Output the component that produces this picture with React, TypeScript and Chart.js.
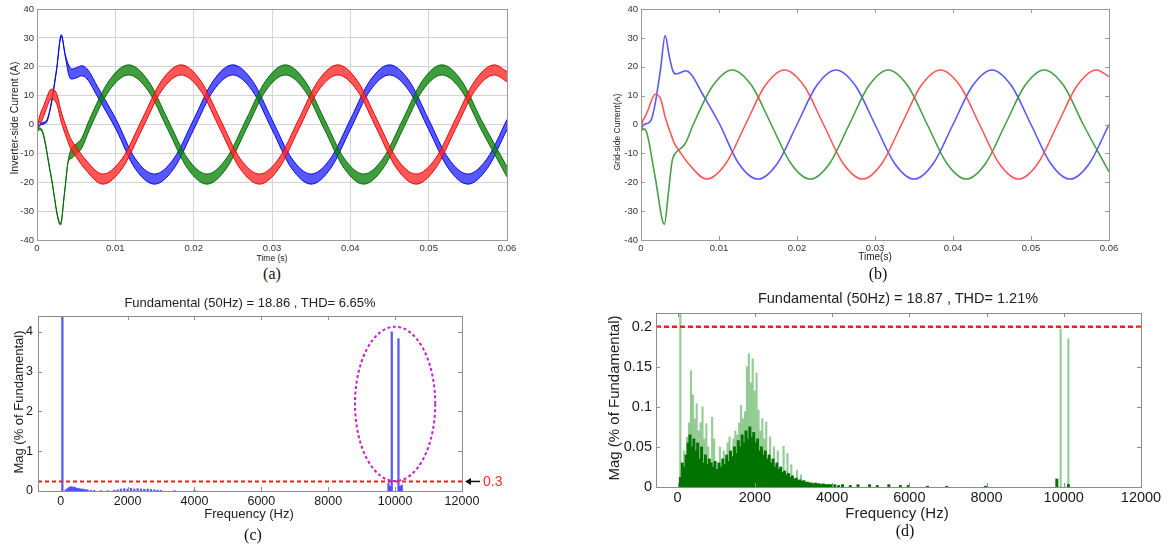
import React, { useEffect, useRef } from "react";
import { Chart, registerables } from "chart.js";

Chart.register(...registerables);

// ---------------- waveform data (time in s, current in A) ----------------
const TIME_TICKS = [0, 0.01, 0.02, 0.03, 0.04, 0.05, 0.06];
const CURRENT_TICKS = [-40, -30, -20, -10, 0, 10, 20, 30, 40];

const RED_T = [0, 0.0002, 0.0005, 0.0009, 0.0013, 0.0018, 0.0025, 0.0031, 0.0038, 0.0043, 0.005, 0.0061,
  0.0084, 0.0109, 0.0134, 0.0159, 0.0184, 0.0209, 0.0234, 0.0259, 0.0284, 0.0309, 0.0334, 0.0359, 0.0384,
  0.0409, 0.0434, 0.0459, 0.0484, 0.0509, 0.0534, 0.0559, 0.0584, 0.06];
const RED_I = [-3, 1, 2.5, 5, 8, 10.5, 9, 2.6, -3.1, -6.6, -9.5, -13.6,
  -18.9, -13.4, 0, 13.4, 18.9, 13.4, 0, -13.4, -18.9, -13.4, 0, 13.4, 18.9,
  13.4, 0, -13.4, -18.9, -13.4, 0, 13.4, 18.9, 16.6];

const BLUE_T = [0, 0.0004, 0.0009, 0.0013, 0.0018, 0.0025, 0.0031, 0.0036, 0.0041, 0.0045, 0.0051, 0.0057, 0.0064, 0.0078,
  0.0101, 0.0125, 0.015, 0.0175, 0.02, 0.0225, 0.025, 0.0275, 0.03, 0.0325, 0.035, 0.0375, 0.04,
  0.0425, 0.045, 0.0475, 0.05, 0.0525, 0.055, 0.0575, 0.06];
const BLUE_I = [-1.5, 0, 0.5, 1.5, 7, 19, 30.8, 24, 18.5, 17.5, 18, 18.6, 17.5, 11,
  0, -13.4, -18.9, -13.4, 0, 13.4, 18.9, 13.4, 0, -13.4, -18.9, -13.4, 0,
  13.4, 18.9, 13.4, 0, -13.4, -18.9, -13.4, 0];

const GREEN_T = [0, 0.0001, 0.0003, 0.0007, 0.0018, 0.003, 0.0035, 0.004, 0.0044, 0.005, 0.0057,
  0.0067, 0.0092, 0.0117, 0.0142, 0.0167, 0.0192, 0.0217, 0.0242, 0.0267, 0.0292, 0.0317, 0.0342,
  0.0367, 0.0392, 0.0417, 0.0442, 0.0467, 0.0492, 0.0517, 0.0542, 0.0567, 0.06];
const GREEN_I = [5, -2, -1.5, -2.5, -18, -34.5, -24, -12.5, -10, -8.5, -6.5,
  0, 13.4, 18.9, 13.4, 0, -13.4, -18.9, -13.4, 0, 13.4, 18.9, 13.4,
  0, -13.4, -18.9, -13.4, 0, 13.4, 18.9, 13.4, 0, -16.4];

// ripple half-band of the inverter-side current (A) and where it starts (s)
const RIPPLE_A = 1.75;
const RIPPLE_THIN = 0.3;
const RIPPLE_START = { red: 0.0005, blue: 0.0041, green: 0.0044 };

// ---------------- spectrum (c) ----------------
const FREQ_TICKS = [0, 2000, 4000, 6000, 8000, 10000, 12000];
const C_MAG_TICKS = [0, 1, 2, 3, 4];
const C_FREQ = [50, 150, 200, 250, 300, 350, 400, 450, 500, 550,
  600, 650, 700, 750, 800, 900, 1000, 1200, 1400, 1600,
  1700, 1800, 1900, 2000, 2100, 2200, 2300, 2400, 2500, 2600,
  2700, 2800, 2900, 3000, 3400, 4000, 9800, 9850, 9900, 10100, 10150, 10200];
const C_MAG = [100, 0.03, 0.06, 0.09, 0.11, 0.1, 0.1, 0.08, 0.07, 0.06,
  0.05, 0.05, 0.04, 0.03, 0.03, 0.02, 0.015, 0.01, 0.01, 0.02,
  0.03, 0.05, 0.06, 0.05, 0.07, 0.05, 0.06, 0.05, 0.045, 0.05,
  0.04, 0.03, 0.02, 0.015, 0.01, 0.02, 0.2, 0.12, 4.0, 3.83, 0.12, 0.15];
const C_LIMIT = 0.24;
const C_LIMIT_LABEL = "0.3";
const C_X_RANGE = [-680, 12000];
const C_Y_MAX = 4.4;
const C_ELLIPSE_CENTER = [10000, 2.19];
const C_ELLIPSE_RADIUS = [1200, 1.94];

// ---------------- spectrum (d) ----------------
const D_MAG_TICKS = [0, 0.05, 0.1, 0.15, 0.2];
const D_FREQ = [100, 150, 200, 250, 300, 350, 400, 450, 500, 550,
  600, 650, 700, 750, 800, 850, 900, 950, 1000, 1050,
  1100, 1150, 1200, 1250, 1300, 1350, 1400, 1450, 1500, 1550,
  1600, 1650, 1700, 1750, 1800, 1850, 1900, 1950, 2000, 2050,
  2100, 2150, 2200, 2250, 2300, 2350, 2400, 2450, 2500, 2550,
  2600, 2650, 2700, 2750, 2800, 2850, 2900, 2950, 3000, 3050,
  3100, 3150, 3200, 3250, 3300, 3350, 3400, 3450, 3500, 3550,
  3600, 3650, 3700, 3750, 3800, 3850, 3900, 3950, 4000,
  4100, 4200, 4300, 4500, 4700, 5000, 5200, 5500, 5800, 6000, 6500, 7000, 8000, 9850, 10150];
const D_MAG = [0.012, 0.03, 0.025, 0.04, 0.055, 0.065, 0.05, 0.06, 0.045, 0.055,
  0.035, 0.05, 0.03, 0.04, 0.028, 0.035, 0.03, 0.025, 0.032, 0.022,
  0.03, 0.025, 0.035, 0.028, 0.04, 0.032, 0.045, 0.038, 0.05, 0.042,
  0.058, 0.05, 0.065, 0.055, 0.07, 0.06, 0.075, 0.062, 0.068, 0.055,
  0.06, 0.045, 0.05, 0.04, 0.045, 0.035, 0.04, 0.03, 0.035, 0.025,
  0.03, 0.022, 0.025, 0.018, 0.02, 0.015, 0.017, 0.012, 0.014, 0.01,
  0.011, 0.008, 0.009, 0.007, 0.008, 0.006, 0.006, 0.005, 0.005, 0.004,
  0.005, 0.004, 0.004, 0.003, 0.004, 0.003, 0.003, 0.003, 0.003,
  0.003, 0.002, 0.003, 0.002, 0.003, 0.003, 0.002, 0.003, 0.002, 0.002, 0.001, 0.001, 0.001, 0.01, 0.003];
const D_SPIKE_FREQ = [50, 150, 225, 275, 325, 375, 425, 475, 525, 575,
  625, 675, 725, 775, 875, 925, 1075, 1175, 1275, 1325,
  1425, 1475, 1525, 1575, 1625, 1675, 1725, 1775, 1825, 1875,
  1925, 1975, 2025, 2075, 2125, 2175, 2225, 2275, 2375, 2475,
  2575, 2725, 2825, 2925, 3075, 3175, 9900, 10100];
const D_SPIKE_MAG = [100, 0.045, 0.062, 0.08, 0.145, 0.115, 0.085, 0.104, 0.07, 0.08,
  0.1, 0.06, 0.079, 0.05, 0.087, 0.06, 0.05, 0.045, 0.055, 0.0625,
  0.06, 0.07, 0.065, 0.08, 0.102, 0.085, 0.094, 0.15, 0.166, 0.13,
  0.16, 0.12, 0.142, 0.096, 0.07, 0.085, 0.06, 0.081, 0.0625, 0.05,
  0.045, 0.051, 0.042, 0.028, 0.021, 0.015, 0.197, 0.185];
const D_LIMIT = 0.2;
const D_X_RANGE = [-560, 12000];
const D_Y_MAX = 0.217;

// ---------------- helpers ----------------
const SANS = "'Liberation Sans', Arial, Helvetica, sans-serif";
const SERIF = "'Liberation Serif', 'Times New Roman', serif";

const xy = (xs: number[], ys: number[]) => xs.map((x, i) => ({ x, y: ys[i] }));
const envelope = (ts: number[], vs: number[], start: number, sign: number) =>
  ts.map((t, i) => ({ x: t, y: vs[i] + sign * (t >= start ? RIPPLE_A : RIPPLE_THIN) }));
const fixedTicks = (vals: number[]) => (s: any) => { s.ticks = vals.map((v) => ({ value: v })); };

function framePlugin(color: string, tickLen: number) {
  return {
    id: "frame",
    afterDatasetsDraw(chart: any) {
      const { ctx, chartArea: a } = chart;
      const xs = chart.scales.x, ys = chart.scales.y;
      ctx.save();
      ctx.setLineDash([]);
      ctx.strokeStyle = color;
      ctx.lineWidth = 1;
      if (tickLen > 0) {
        ctx.beginPath();
        xs.ticks.forEach((t: any) => {
          const p = Math.round(xs.getPixelForValue(t.value)) + 0.5;
          ctx.moveTo(p, a.bottom); ctx.lineTo(p, a.bottom - tickLen);
          ctx.moveTo(p, a.top); ctx.lineTo(p, a.top + tickLen);
        });
        ys.ticks.forEach((t: any) => {
          const p = Math.round(ys.getPixelForValue(t.value)) + 0.5;
          ctx.moveTo(a.left, p); ctx.lineTo(a.left + tickLen, p);
          ctx.moveTo(a.right, p); ctx.lineTo(a.right - tickLen, p);
        });
        ctx.stroke();
      }
      ctx.strokeRect(Math.round(a.left) + 0.5, Math.round(a.top) + 0.5,
        Math.round(a.right - a.left), Math.round(a.bottom - a.top));
      ctx.restore();
    },
  };
}

const ellipsePlugin = {
  id: "ellipse",
  afterDatasetsDraw(chart: any) {
    const { ctx } = chart;
    const xs = chart.scales.x, ys = chart.scales.y;
    const cx = xs.getPixelForValue(C_ELLIPSE_CENTER[0]);
    const cy = ys.getPixelForValue(C_ELLIPSE_CENTER[1]);
    const rx = Math.abs(xs.getPixelForValue(C_ELLIPSE_CENTER[0] + C_ELLIPSE_RADIUS[0]) - cx);
    const ry = Math.abs(ys.getPixelForValue(C_ELLIPSE_CENTER[1] + C_ELLIPSE_RADIUS[1]) - cy);
    ctx.save();
    ctx.strokeStyle = "#c81ec8";
    ctx.lineWidth = 2;
    ctx.setLineDash([3, 2.5]);
    ctx.beginPath();
    ctx.ellipse(cx, cy, rx, ry, 0, 0, Math.PI * 2);
    ctx.stroke();
    ctx.restore();
  },
};

const arrowPlugin = {
  id: "arrowLabel",
  afterDraw(chart: any) {
    const { ctx, chartArea: a } = chart;
    const y = chart.scales.y.getPixelForValue(C_LIMIT);
    ctx.save();
    ctx.strokeStyle = "#111";
    ctx.fillStyle = "#111";
    ctx.lineWidth = 1.5;
    ctx.beginPath();
    ctx.moveTo(a.right + 18, y);
    ctx.lineTo(a.right + 7, y);
    ctx.stroke();
    ctx.beginPath();
    ctx.moveTo(a.right + 3, y);
    ctx.lineTo(a.right + 9, y - 3.5);
    ctx.lineTo(a.right + 9, y + 3.5);
    ctx.closePath();
    ctx.fill();
    ctx.fillStyle = "#ff2a2a";
    ctx.font = `14px ${SANS}`;
    ctx.textBaseline = "middle";
    ctx.textAlign = "left";
    ctx.fillText(C_LIMIT_LABEL, a.right + 21, y + 0.5);
    ctx.restore();
  },
};

function waveOptions(grid: boolean) {
  const tickFont = { family: SANS, size: 9.5 };
  return {
    responsive: false,
    animation: false as const,
    devicePixelRatio: 1,
    layout: { padding: { left: 0, top: 9, right: 0, bottom: 0 } },
    plugins: { legend: { display: false }, tooltip: { enabled: false } },
    elements: { point: { radius: 0 } },
    scales: {
      x: {
        type: "linear" as const, min: 0, max: 0.06,
        afterBuildTicks: fixedTicks(TIME_TICKS),
        afterFit: (s: any) => { s.height = 12; },
        grid: { display: grid, color: "#d4d4d4", drawTicks: false },
        border: { display: false },
        ticks: { autoSkip: false, maxRotation: 0, padding: 3, font: tickFont, color: "#333", callback: (v: any) => String(v) },
      },
      y: {
        type: "linear" as const, min: -40, max: 40,
        afterBuildTicks: fixedTicks(CURRENT_TICKS),
        afterFit: (s: any) => { s.width = 37; },
        grid: { display: grid, color: "#d4d4d4", drawTicks: false },
        border: { display: false },
        ticks: { autoSkip: false, padding: 3, font: tickFont, color: "#333", callback: (v: any) => String(v) },
      },
    },
  };
}

function bandSets(ts: number[], vs: number[], start: number, edge: string, fillColor: string) {
  return [
    { data: envelope(ts, vs, start, 1), borderColor: edge, borderWidth: 1, pointRadius: 0, fill: false, cubicInterpolationMode: "monotone" as const },
    { data: envelope(ts, vs, start, -1), borderColor: edge, borderWidth: 1, pointRadius: 0, fill: "-1", backgroundColor: fillColor, cubicInterpolationMode: "monotone" as const },
  ];
}

function makeA() {
  const opts: any = waveOptions(true);
  opts.layout.padding.right = 13;
  return {
    type: "line" as const,
    data: {
      datasets: [
        ...bandSets(RED_T, RED_I, RIPPLE_START.red, "rgba(235,0,0,0.95)", "rgba(255,40,40,0.78)"),
        ...bandSets(GREEN_T, GREEN_I, RIPPLE_START.green, "rgba(0,105,0,0.95)", "rgba(10,130,10,0.78)"),
        ...bandSets(BLUE_T, BLUE_I, RIPPLE_START.blue, "rgba(0,0,235,0.95)", "rgba(40,40,255,0.78)"),
      ],
    },
    options: opts,
    plugins: [framePlugin("#9a9a9a", 0)],
  };
}

function makeB() {
  const opts: any = waveOptions(false);
  opts.layout.padding.right = 15;
  const line = (ts: number[], vs: number[], color: string) => ({
    data: xy(ts, vs), borderColor: color, borderWidth: 1.6, pointRadius: 0, fill: false,
    cubicInterpolationMode: "monotone" as const,
  });
  return {
    type: "line" as const,
    data: {
      datasets: [
        line(RED_T, RED_I, "rgba(255,70,70,0.9)"),
        line(GREEN_T, GREEN_I, "rgba(50,150,50,0.9)"),
        line(BLUE_T, BLUE_I, "rgba(70,70,255,0.9)"),
      ],
    },
    options: opts,
    plugins: [framePlugin("#9a9a9a", 4)],
  };
}

function spectrumScales(xRange: number[], yMax: number, yTicks: number[], yWidth: number, xHeight: number,
  font: any, xPad: number, yPad: number) {
  return {
    x: {
      type: "linear" as const, min: xRange[0], max: xRange[1], offset: false,
      afterBuildTicks: fixedTicks(FREQ_TICKS),
      afterFit: (s: any) => { s.height = xHeight; },
      grid: { display: false, drawTicks: false },
      border: { display: false },
      ticks: { autoSkip: false, maxRotation: 0, padding: xPad, font, color: "#1a1a1a", callback: (v: any) => String(v) },
    },
    y: {
      type: "linear" as const, min: 0, max: yMax,
      afterBuildTicks: fixedTicks(yTicks),
      afterFit: (s: any) => { s.width = yWidth; },
      grid: { display: false, drawTicks: false },
      border: { display: false },
      ticks: { autoSkip: false, padding: yPad, font, color: "#1a1a1a", callback: (v: any) => String(v) },
    },
  };
}

function makeC() {
  return {
    type: "bar" as const,
    data: {
      datasets: [
        {
          type: "line" as const,
          data: [{ x: C_X_RANGE[0], y: C_LIMIT }, { x: C_X_RANGE[1], y: C_LIMIT }],
          borderColor: "#ff1a1a", borderWidth: 2, borderDash: [4, 3], pointRadius: 0, fill: false,
        },
        {
          type: "bar" as const,
          data: xy(C_FREQ, C_MAG),
          backgroundColor: "rgba(60,60,255,0.85)", barThickness: 1.6,
        },
      ],
    },
    options: {
      responsive: false,
      animation: false as const,
      devicePixelRatio: 1,
      layout: { padding: { left: 0, top: 16, right: 58, bottom: 0 } },
      plugins: { legend: { display: false }, tooltip: { enabled: false } },
      scales: spectrumScales(C_X_RANGE, C_Y_MAX, C_MAG_TICKS, 38, 29, { family: SANS, size: 12.5 }, 3, 5),
    },
    plugins: [framePlugin("#8c8c8c", 4), ellipsePlugin, arrowPlugin],
  };
}

function makeD() {
  return {
    type: "bar" as const,
    data: {
      datasets: [
        {
          type: "line" as const,
          data: [{ x: D_X_RANGE[0], y: D_LIMIT }, { x: D_X_RANGE[1], y: D_LIMIT }],
          borderColor: "#ff1a1a", borderWidth: 2.5, borderDash: [5, 3], pointRadius: 0, fill: false,
        },
        {
          type: "bar" as const,
          data: xy(D_FREQ, D_MAG),
          backgroundColor: "rgb(0,115,0)", barThickness: 2.3,
        },
        {
          type: "bar" as const,
          data: xy(D_SPIKE_FREQ, D_SPIKE_MAG),
          backgroundColor: "rgba(80,170,80,0.6)", barThickness: 1.5,
        },
      ],
    },
    options: {
      responsive: false,
      animation: false as const,
      devicePixelRatio: 1,
      layout: { padding: { left: 0, top: 15, right: 27, bottom: 0 } },
      plugins: { legend: { display: false }, tooltip: { enabled: false } },
      scales: spectrumScales(D_X_RANGE, D_Y_MAX, D_MAG_TICKS, 56, 33, { family: SANS, size: 14.5 }, 2, 4),
    },
    plugins: [framePlugin("#8c8c8c", 4)],
  };
}

// ---------------- components ----------------
type Box = { left: number; top: number; width: number; height: number };

function ChartCanvas({ box, make }: { box: Box; make: () => any }) {
  const ref = useRef<HTMLCanvasElement | null>(null);
  useEffect(() => {
    const chart = new Chart(ref.current as HTMLCanvasElement, make());
    return () => chart.destroy();
  }, []);
  return (
    <canvas
      ref={ref}
      width={box.width}
      height={box.height}
      style={{ position: "absolute", left: box.left, top: box.top, width: box.width, height: box.height }}
    />
  );
}

function Label({ x, y, text, size, rotate = false, family = SANS, color = "#222", weight = 400 }:
  { x: number; y: number; text: string; size: number; rotate?: boolean; family?: string; color?: string; weight?: number }) {
  return (
    <div
      style={{
        position: "absolute", left: x, top: y, whiteSpace: "nowrap", lineHeight: 1,
        fontFamily: family, fontSize: size, color, fontWeight: weight,
        transform: `translate(-50%, -50%)${rotate ? " rotate(-90deg)" : ""}`,
      }}
    >
      {text}
    </div>
  );
}

export default function App() {
  return (
    <div style={{ position: "fixed", left: 0, top: 0, width: 1168, height: 551, background: "#fff", overflow: "hidden" }}>
      <ChartCanvas box={{ left: 0, top: 0, width: 520, height: 252 }} make={makeA} />
      <ChartCanvas box={{ left: 604, top: 0, width: 520, height: 252 }} make={makeB} />
      <ChartCanvas box={{ left: 0, top: 300, width: 520, height: 220 }} make={makeC} />
      <ChartCanvas box={{ left: 600, top: 298, width: 568, height: 222 }} make={makeD} />

      <Label x={14} y={118} text="Inverter-side Current (A)" size={10.5} rotate />
      <Label x={272} y={258} text="Time (s)" size={8.5} />
      <Label x={272} y={274} text="(a)" size={16} family={SERIF} color="#111" />

      <Label x={617} y={132} text="Grid-side Current(A)" size={8.5} rotate />
      <Label x={875} y={257} text="Time(s)" size={10} />
      <Label x={878} y={274} text="(b)" size={16} family={SERIF} color="#111" />

      <Label x={250} y={302} text="Fundamental (50Hz) = 18.86 , THD= 6.65%" size={13} />
      <Label x={18} y={402} text="Mag (% of Fundamental)" size={13} rotate />
      <Label x={249} y={513} text="Frequency (Hz)" size={13} />
      <Label x={253} y={535} text="(c)" size={16} family={SERIF} color="#111" />

      <Label x={898} y={298} text="Fundamental (50Hz) = 18.87 , THD= 1.21%" size={14.5} />
      <Label x={613} y={398} text="Mag (% of Fundamental)" size={15} rotate />
      <Label x={897} y={512} text="Frequency (Hz)" size={15} />
      <Label x={905} y={531} text="(d)" size={16} family={SERIF} color="#111" />
    </div>
  );
}
